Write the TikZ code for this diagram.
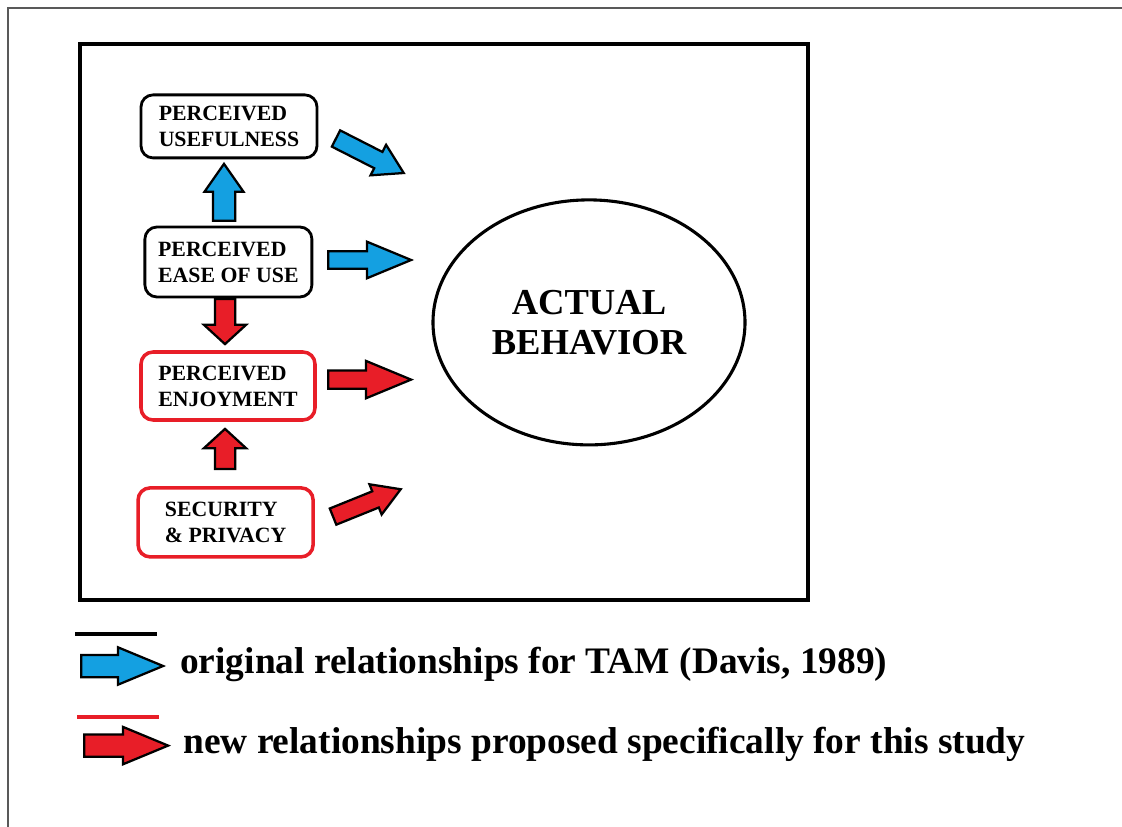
\documentclass[tikz,border=0pt]{standalone}
\usepackage{fontspec}
\setmainfont{Liberation Serif}
\usepackage{tikz}
\usetikzlibrary{shapes.geometric, shapes.arrows, positioning, calc}
\definecolor{tamblue}{RGB}{20,160,225}
\definecolor{tamred}{RGB}{232,30,40}

\begin{document}
\begin{tikzpicture}[
    construct/.style={rectangle, rounded corners=0.3cm, draw=black, line width=2pt, fill=white,
        minimum width=4.35cm, minimum height=1.65cm, inner sep=2pt, align=left,
        font=\fontsize{15.5}{18.5}\selectfont\bfseries},
    newconstruct/.style={construct, draw=tamred, line width=2.5pt},
    outcome/.style={ellipse, draw=black, line width=2.2pt, minimum width=7.8cm, minimum height=6.125cm,
        align=center, font=\fontsize{26}{28.5}\selectfont\bfseries},
    blockarrow/.style={single arrow, draw=black, line width=1.6pt, inner xsep=0pt,
        single arrow head indent=0pt, anchor=tail},
    tamarrow/.style={blockarrow, fill=tamblue},
    newarrow/.style={blockarrow, fill=tamred},
    legendtext/.style={anchor=base west, inner sep=0pt, font=\fontsize{26.6}{30}\selectfont\bfseries}
]
    % frames
    \useasboundingbox (0,0) rectangle (28.05,-20.675);
    \draw [gray!70!black, line width=1.2pt] (0.2,-20.8) -- (0.2,-0.2) -- (28.2,-0.2);
    \draw [line width=3.5pt] (2.0,-1.1) rectangle (20.2,-15.0);

    % constructs
    \node (pu) [construct, minimum width=4.4cm, minimum height=1.575cm] at (5.725,-3.16) {PERCEIVED\\USEFULNESS};
    \node (peou) [construct, minimum width=4.175cm, minimum height=1.75cm] at (5.71,-6.55) {PERCEIVED\\EASE OF USE};
    \node (pe) [newconstruct, minimum height=1.7cm] at (5.7,-9.65) {PERCEIVED\\ENJOYMENT};
    \node (sp) [newconstruct, minimum width=4.375cm, minimum height=1.725cm] at (5.64,-13.06) {SECURITY\\\& PRIVACY};
    \node (ab) [outcome] at (14.725,-8.06) {ACTUAL\\BEHAVIOR};

    % relationships
    \node (peou-pu) [tamarrow, rotate=90, minimum height=1.425cm, inner ysep=0.25cm,
        single arrow head extend=0.21cm, single arrow tip angle=70] at (5.6,-5.55) {};
    \node (pu-ab) [tamarrow, rotate=-27, minimum height=1.9cm, inner ysep=0.2cm,
        single arrow head extend=0.2cm, single arrow tip angle=62] at (8.375,-3.45) {};
    \node (peou-ab) [tamarrow, minimum height=2.075cm, inner ysep=0.19cm,
        single arrow head extend=0.24cm, single arrow tip angle=45] at (8.175,-6.5) {};
    \node (peou-pe) [newarrow, rotate=-90, minimum height=1.125cm, inner ysep=0.225cm,
        single arrow head extend=0.275cm, single arrow tip angle=95] at (5.625,-7.45) {};
    \node (pe-ab) [newarrow, minimum height=2.075cm, inner ysep=0.2cm,
        single arrow head extend=0.24cm, single arrow tip angle=45] at (8.175,-9.49) {};
    \node (sp-pe) [newarrow, rotate=90, minimum height=1.0cm, inner ysep=0.225cm,
        single arrow head extend=0.275cm, single arrow tip angle=95] at (5.625,-11.75) {};
    \node (sp-ab) [newarrow, rotate=22, minimum height=1.825cm, inner ysep=0.19cm,
        single arrow head extend=0.19cm, single arrow tip angle=62] at (8.3,-12.925) {};

    % legend
    \draw [line width=2.8pt] (1.875,-15.85) -- (3.925,-15.85);
    \node (keytam) [tamarrow, minimum height=2.05cm, inner ysep=0.25cm,
        single arrow head extend=0.19cm, single arrow tip angle=45] at (2.0,-16.65) {};
    \node (keytamtext) [legendtext] at (4.5,-16.825) {original relationships for TAM (Davis, 1989)};
    \draw [tamred, line width=2.8pt] (1.925,-17.93) -- (3.975,-17.93);
    \node (keynew) [newarrow, minimum height=2.1cm, inner ysep=0.25cm,
        single arrow head extend=0.19cm, single arrow tip angle=45] at (2.075,-18.64) {};
    \node (keynewtext) [legendtext] at (4.575,-18.825) {new relationships proposed specifically for this study};
\end{tikzpicture}
\end{document}
